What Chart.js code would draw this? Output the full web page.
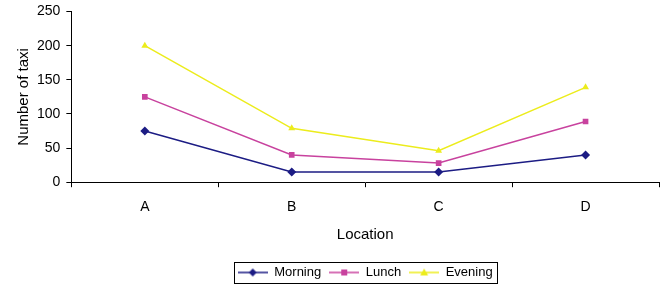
<!DOCTYPE html>
<html><head><meta charset="utf-8">
<script src="https://cdn.jsdelivr.net/npm/chart.js@4"></script>
<style>html,body{margin:0;padding:0;background:#fff}#wrap{width:669px;height:288px}</style>
</head><body><div id="wrap"><canvas id="c" width="669" height="288"></canvas></div>
<script>
const categories = ['A', 'B', 'C', 'D'];
const morning = [75, 15, 15, 40];
const lunch = [125, 40, 28, 89];
const evening = [200, 79, 46, 139];
const yTicks = [0, 50, 100, 150, 200, 250];
const seriesNames = ['Morning', 'Lunch', 'Evening'];
const colors = ['#1c1c84', '#c8429e', '#ecec1c'];
const markers = ['rectRot', 'rect', 'triangle'];

function legendImg(color, marker) {
  const cv = document.createElement('canvas');
  cv.width = 30; cv.height = 10;
  const x = cv.getContext('2d');
  x.strokeStyle = color; x.lineWidth = 1.5;
  x.beginPath(); x.moveTo(0, 5); x.lineTo(30, 5); x.stroke();
  x.fillStyle = color;
  x.beginPath();
  if (marker === 'rectRot') { x.moveTo(15, 1); x.lineTo(19, 5); x.lineTo(15, 9); x.lineTo(11, 5); }
  else if (marker === 'rect') { x.rect(12, 2, 6, 6); }
  else { x.moveTo(15, 1); x.lineTo(19, 8); x.lineTo(11, 8); }
  x.closePath(); x.fill();
  return cv;
}

const legendBorder = {
  id: 'legendBorder',
  afterDraw(chart) {
    const hb = chart.legend.legendHitBoxes;
    if (!hb || !hb.length) return;
    const l = Math.min(...hb.map(b => b.left)) - 4;
    const r = Math.max(...hb.map(b => b.left + b.width)) + 4;
    const t = Math.min(...hb.map(b => b.top)) - 4;
    const btm = Math.max(...hb.map(b => b.top + b.height)) + 4;
    const ctx = chart.ctx;
    ctx.save(); ctx.strokeStyle = '#000'; ctx.lineWidth = 1;
    ctx.strokeRect(Math.round(l) + 0.5, Math.round(t) + 0.5, Math.round(r - l), Math.round(btm - t));
    ctx.restore();
  }
};

const datasets = [morning, lunch, evening].map((d, i) => ({
  label: seriesNames[i], data: d,
  borderColor: colors[i], backgroundColor: colors[i],
  borderWidth: 1.5, pointStyle: markers[i], pointRadius: i === 0 ? 4.5 : 4,
  pointBorderWidth: 0, tension: 0
}));

Chart.defaults.font.family = '"Liberation Sans", Arial, sans-serif';
Chart.defaults.font.size = 12;
Chart.defaults.color = '#000';

new Chart(document.getElementById('c'), {
  type: 'line',
  data: { labels: categories, datasets },
  options: {
    responsive: false, animation: false,
    layout: { padding: { top: 0, right: 10, left: 10, bottom: -1 } },
    plugins: {
      tooltip: { enabled: false },
      legend: {
        position: 'bottom', fullSize: false,
        labels: {
          usePointStyle: true, pointStyleWidth: 30, padding: 8,
          font: { size: 13 },
          generateLabels: () => seriesNames.map((n, i) => ({
            text: n, pointStyle: legendImg(colors[i], markers[i]),
            fillStyle: colors[i], strokeStyle: colors[i], lineWidth: 0, datasetIndex: i, hidden: false
          }))
        }
      }
    },
    scales: {
      x: {
        offset: true,
        grid: { offset: true, drawOnChartArea: false, drawTicks: true, tickLength: 5, color: '#000' },
        border: { color: '#000', width: 1 },
        ticks: { padding: 12, font: { size: 14 } },
        title: { display: true, text: 'Location', font: { size: 15 }, padding: { top: -2, bottom: 14 } }
      },
      y: {
        min: 0, max: 250,
        afterBuildTicks: (s) => { s.ticks = yTicks.map(v => ({ value: v })); },
        grid: { drawOnChartArea: false, drawTicks: true, tickLength: 5, color: '#000' },
        border: { color: '#000', width: 1 },
        ticks: { padding: 6, font: { size: 14, lineHeight: 0.8 } },
        title: { display: true, text: 'Number of taxi', font: { size: 15 }, padding: { top: 5, bottom: -2 } }
      }
    }
  },
  plugins: [legendBorder]
});
</script></body></html>
